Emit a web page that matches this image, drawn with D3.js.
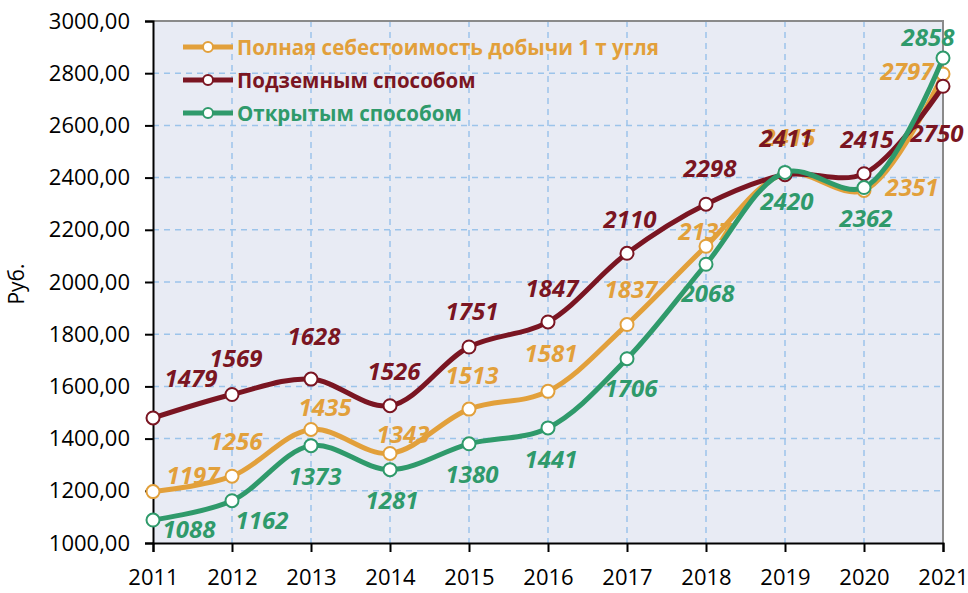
<!DOCTYPE html>
<html>
<head>
<meta charset="utf-8">
<script src="https://cdn.jsdelivr.net/npm/d3@7"></script>
<style>
  body { margin: 0; background: #fff; }
  #chart { width: 968px; height: 593px; }
  text { font-family: 'Open Sans', sans-serif; }
</style>
</head>
<body>
<div id="chart"></div>
<script>
document.addEventListener('DOMContentLoaded', init, false);

// data
var years = [2011, 2012, 2013, 2014, 2015, 2016, 2017, 2018, 2019, 2020, 2021];
var totalCost = [1197, 1256, 1435, 1343, 1513, 1581, 1837, 2137, 2415, 2351, 2797];
var underground = [1479, 1569, 1628, 1526, 1751, 1847, 2110, 2298, 2411, 2415, 2750];
var openPit = [1088, 1162, 1373, 1281, 1380, 1441, 1706, 2068, 2420, 2362, 2858];
var yTicks = [1000, 1200, 1400, 1600, 1800, 2000, 2200, 2400, 2600, 2800, 3000];
var seriesNames = ['Полная себестоимость добычи 1 т угля', 'Подземным способом', 'Открытым способом'];
var yTitle = 'Руб.';

// label placement relative to each point (dx, dy of baseline)
var totalOffsets = [[40, -8], [4, -26], [14, -13], [13, -10], [3, -25], [3, -29], [4, -27], [-1, -6], [4, -28], [48, 6], [-36, 6]];
var undergroundOffsets = [[38, -31], [4, -27], [3, -34], [4, -26], [3, -27], [4, -25], [3, -25], [4, -27], [1, -28], [3, -26], [-6, 56]];
var openPitOffsets = [[36, 18], [30, 28], [4, 39], [2, 39], [3, 39], [3, 40], [4, 38], [2, 38], [2, 38], [2, 39], [-15, -12]];

var width = 968;
var height = 593;
var margin = { top: 21, right: 25, bottom: 50, left: 153 };

function init() {

  var svg = d3.select('#chart')
    .append('svg')
      .attr('width', width)
      .attr('height', height);

  var chart = svg.append('g')
    .attr('transform', 'translate(' + margin.left + ',' + margin.top + ')');

  var w = width - margin.left - margin.right;
  var h = height - margin.top - margin.bottom;

  var x = d3.scaleLinear().domain([2011, 2021]).range([0, w]);
  var y = d3.scaleLinear().domain([1000, 3000]).range([h, 0]);

  var fmt = d3.formatLocale({ decimal: ',', thousands: '', grouping: [3], currency: ['', ''] }).format('.2f');

  chart.append('rect')
    .attr('width', w)
    .attr('height', h)
    .attr('fill', '#e8ebf4');

  // grid
  chart.append('g')
    .selectAll('line')
    .data(yTicks.slice(1))
    .enter()
    .append('line')
      .attr('x1', 0).attr('x2', w)
      .attr('y1', function (d) { return y(d); })
      .attr('y2', function (d) { return y(d); })
      .attr('stroke', '#9cc4ea')
      .attr('stroke-width', 1.5)
      .attr('stroke-dasharray', '6,5');

  chart.append('g')
    .selectAll('line')
    .data(years.slice(1))
    .enter()
    .append('line')
      .attr('y1', 0).attr('y2', h)
      .attr('x1', function (d) { return x(d); })
      .attr('x2', function (d) { return x(d); })
      .attr('stroke', '#9cc4ea')
      .attr('stroke-width', 1.5)
      .attr('stroke-dasharray', '6,5');

  // frame top/right
  chart.append('path')
    .attr('d', 'M0,0H' + w + 'V' + h)
    .attr('fill', 'none')
    .attr('stroke', '#8a8a8a')
    .attr('stroke-width', 2);

  var yAxis = chart.append('g')
    .call(d3.axisLeft(y).tickValues(yTicks).tickSize(8).tickFormat(fmt));

  var xAxis = chart.append('g')
    .attr('transform', 'translate(0,' + h + ')')
    .call(d3.axisBottom(x).tickValues(years).tickSize(9).tickFormat(d3.format('d')));

  [yAxis, xAxis].forEach(function (a) {
    a.select('.domain').attr('stroke', '#000').attr('stroke-width', 2);
    a.selectAll('.tick line').attr('stroke', '#000').attr('stroke-width', 2);
    a.selectAll('.tick text')
      .attr('fill', '#000')
      .attr('font-size', 22)
      .attr('font-family', 'Open Sans, sans-serif');
  });
  yAxis.selectAll('.tick text').attr('x', -23);
  xAxis.selectAll('.tick text').attr('y', 26);

  svg.append('text')
    .attr('transform', 'translate(24,284) rotate(-90)')
    .attr('text-anchor', 'middle')
    .attr('font-size', 21)
    .text(yTitle);

  var series = [
    { name: seriesNames[0], values: totalCost, offsets: totalOffsets, color: '#e2a03b' },
    { name: seriesNames[1], values: underground, offsets: undergroundOffsets, color: '#7a1522' },
    { name: seriesNames[2], values: openPit, offsets: openPitOffsets, color: '#2f9a6b' }
  ];

  var line = d3.line()
    .x(function (d, i) { return x(years[i]); })
    .y(function (d) { return y(d); })
    .curve(d3.curveCatmullRom.alpha(0.5));

  series.forEach(function (s) {

    var g = chart.append('g');

    g.append('path')
      .attr('d', line(s.values))
      .attr('fill', 'none')
      .attr('stroke', s.color)
      .attr('stroke-width', 5)
      .attr('stroke-linejoin', 'round');

    g.selectAll('circle')
      .data(s.values)
      .enter()
      .append('circle')
        .attr('cx', function (d, i) { return x(years[i]); })
        .attr('cy', function (d) { return y(d); })
        .attr('r', 6.5)
        .attr('fill', '#fff')
        .attr('stroke', s.color)
        .attr('stroke-width', 2);

    g.selectAll('text')
      .data(s.values)
      .enter()
      .append('text')
        .attr('x', function (d, i) { return x(years[i]) + s.offsets[i][0]; })
        .attr('y', function (d, i) { return y(d) + s.offsets[i][1]; })
        .attr('text-anchor', 'middle')
        .attr('font-size', 24)
        .attr('font-weight', 'bold')
        .attr('font-style', 'italic')
        .attr('fill', s.color)
        .text(function (d) { return d; });
  });

  // legend
  var legend = svg.append('g')
    .attr('transform', 'translate(183,47)');

  var item = legend.selectAll('.item')
    .data(series)
    .enter()
    .append('g')
      .attr('class', 'item')
      .attr('transform', function (d, i) { return 'translate(0,' + (i * 33) + ')'; });

  item.append('line')
    .attr('x1', 0).attr('x2', 50)
    .attr('stroke', function (d) { return d.color; })
    .attr('stroke-width', 5);

  item.append('circle')
    .attr('cx', 25)
    .attr('r', 5)
    .attr('fill', '#fff')
    .attr('stroke', function (d) { return d.color; })
    .attr('stroke-width', 2);

  item.append('text')
    .attr('x', 54)
    .attr('y', 7.5)
    .attr('font-size', 20.5)
    .attr('font-weight', 'bold')
    .attr('fill', function (d) { return d.color; })
    .text(function (d) { return d.name; });
}
</script>
</body>
</html>
